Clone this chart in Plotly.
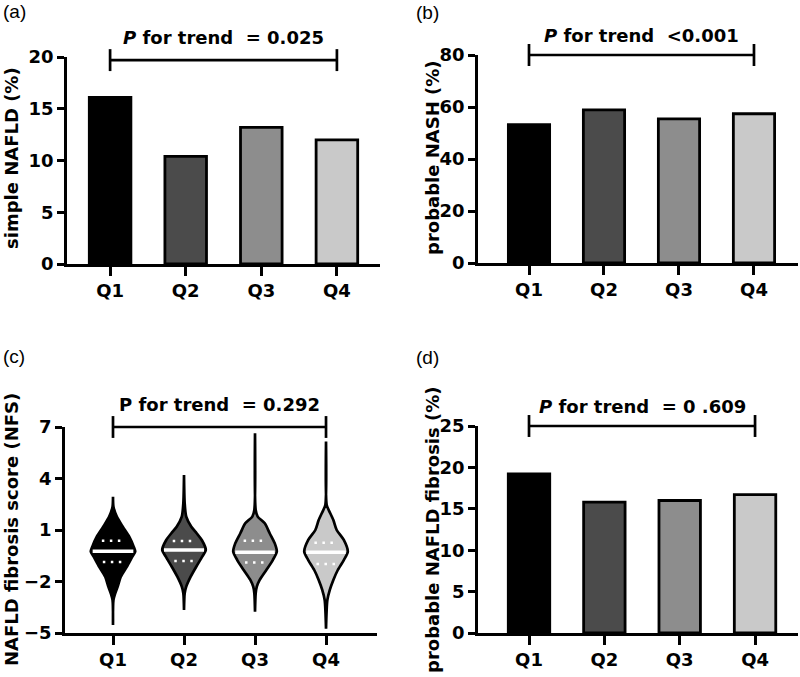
import numpy as np
import plotly.graph_objects as go

# ---------------- data ----------------
quartiles = ["Q1", "Q2", "Q3", "Q4"]
simple_nafld = [16.1, 10.4, 13.2, 12.0]          # (a) %
probable_nash = [53.2, 58.9, 55.4, 57.4]          # (b) %
probable_fibrosis = [19.2, 15.8, 16.0, 16.7]      # (d) %

# (c) NFS violin profiles: NFS value -> relative density
nfs_q1_vals = [2.94, 2.36, 1.78, 1.19, 0.61, 0.03, -0.26, -0.55, -1.14, -1.72, -2.30, -2.69, -3.08, -4.53]
nfs_q1_dens = [0.0, 0.02, 0.17, 0.44, 0.73, 0.93, 1.00, 0.87, 0.62, 0.35, 0.21, 0.10, 0.02, 0.0]
nfs_q2_vals = [4.20, 2.56, 1.78, 1.19, 0.81, 0.42, -0.16, -0.55, -1.14, -1.72, -2.30, -2.69, -3.66]
nfs_q2_dens = [0.0, 0.03, 0.10, 0.33, 0.57, 0.80, 0.98, 0.82, 0.55, 0.30, 0.10, 0.03, 0.0]
nfs_q3_vals = [6.63, 2.17, 1.78, 1.39, 0.81, 0.22, -0.26, -0.75, -1.33, -1.91, -2.30, -2.69, -3.76]
nfs_q3_dens = [0.0, 0.03, 0.12, 0.44, 0.66, 0.89, 0.98, 0.80, 0.51, 0.21, 0.08, 0.03, 0.0]
nfs_q4_vals = [6.15, 2.46, 2.17, 1.58, 1.00, 0.42, -0.26, -0.75, -1.33, -1.91, -2.49, -3.08, -4.75]
nfs_q4_dens = [0.0, 0.03, 0.12, 0.33, 0.48, 0.80, 0.98, 0.80, 0.53, 0.33, 0.17, 0.06, 0.0]
nfs_median = [-0.24, -0.16, -0.30, -0.30]
nfs_q_upper = [0.38, 0.36, 0.38, 0.26]
nfs_q_lower = [-0.86, -0.80, -0.90, -0.98]

p_texts = ["<i>P</i> for trend\u00a0 = 0.025",
           "<i>P</i> for trend\u00a0 <0.001",
           "P for trend\u00a0 = 0.292",
           "<i>P</i> for trend\u00a0 = 0 .609"]
y_titles = ["simple NAFLD (%)", "probable NASH (%)",
            "NAFLD fibrosis score (NFS)", "probable NAFLD fibrosis (%)"]
panel_labels = ["(a)", "(b)", "(c)", "(d)"]

# ---------------- style ----------------
W, H = 800, 677
FONT = "DejaVu Sans"
LABEL_FONT = "Liberation Sans"
fills = ["#000000", "#4b4b4b", "#8d8d8d", "#c9c9c9"]
LW = 2.7
VMAX = 0.313

def px(x):
    return x / W

def py(y):
    return 1 - y / H

fig = go.Figure()

# bars
for ax, vals in zip(["", "2", "4"], [simple_nafld, probable_nash, probable_fibrosis]):
    fig.add_trace(go.Bar(
        x=list(range(4)), y=vals, width=0.55,
        marker=dict(color=fills, line=dict(color="black", width=2.8)),
        xaxis="x" + ax, yaxis="y" + ax, showlegend=False, hoverinfo="skip"))

# violins
profiles = [(nfs_q1_vals, nfs_q1_dens), (nfs_q2_vals, nfs_q2_dens),
            (nfs_q3_vals, nfs_q3_dens), (nfs_q4_vals, nfs_q4_dens)]
for i, (vals, dens) in enumerate(profiles):
    vals = np.array(vals)
    hw = np.array(dens) * VMAX
    xs = list(i + hw) + list(i - hw[::-1]) + [i + hw[0]]
    ys = list(vals) + list(vals[::-1]) + [vals[0]]
    fig.add_trace(go.Scatter(
        x=xs, y=ys, mode="lines", fill="toself", fillcolor=fills[i],
        line=dict(color="black", width=LW, shape="spline", smoothing=0.7),
        xaxis="x3", yaxis="y3", showlegend=False, hoverinfo="skip"))
    asc_v, asc_d = vals[::-1], np.array(dens)[::-1]
    for yv, frac, dash, wid in [(nfs_median[i], 0.92, "solid", 3.5),
                                (nfs_q_upper[i], 0.62, "2.5px,5.5px", 2.5),
                                (nfs_q_lower[i], 0.62, "2.5px,5.5px", 2.5)]:
        h = np.interp(yv, asc_v, asc_d) * VMAX * frac
        fig.add_trace(go.Scatter(
            x=[i - h, i + h], y=[yv, yv], mode="lines",
            line=dict(color="white", width=wid, dash=dash),
            xaxis="x3", yaxis="y3", showlegend=False, hoverinfo="skip"))

tickfont = dict(family=FONT, size=18, color="black", weight="bold")

def xaxis(dom, rng, anchor):
    return dict(domain=dom, range=rng, anchor=anchor, tickmode="array",
                tickvals=list(range(4)), ticktext=quartiles, showline=True,
                linecolor="black", linewidth=LW, ticks="outside", ticklen=9,
                tickwidth=LW, tickcolor="black", showgrid=False, zeroline=False,
                tickfont=tickfont, fixedrange=True)

def yaxis(dom, rng, tv, anchor):
    return dict(domain=dom, range=rng, anchor=anchor, tickmode="array",
                tickvals=tv, showline=True, linecolor="black", linewidth=LW,
                ticks="outside", ticklen=7, tickwidth=LW, tickcolor="black",
                showgrid=False, zeroline=False, tickfont=tickfont, fixedrange=True)

fig.update_layout(
    width=W, height=H, margin=dict(l=0, r=0, t=0, b=0, autoexpand=False),
    paper_bgcolor="white", plot_bgcolor="white", showlegend=False,
    xaxis=xaxis([px(67), px(380)], [-0.57, 3.57], "y"),
    yaxis=yaxis([py(264), py(57)], [0, 20], [0, 5, 10, 15, 20], "x"),
    xaxis2=xaxis([px(478), px(798)], [-0.68, 3.587], "y2"),
    yaxis2=yaxis([py(263), py(55)], [0, 80], [0, 20, 40, 60, 80], "x2"),
    xaxis3=xaxis([px(65), px(377)], [-0.676, 3.718], "y3"),
    yaxis3=yaxis([py(633), py(427)], [-5, 7], [-5, -2, 1, 4, 7], "x3"),
    xaxis4=xaxis([px(478), px(798)], [-0.677, 3.57], "y4"),
    yaxis4=yaxis([py(633), py(426)], [0, 25], [0, 5, 10, 15, 20, 25], "x4"),
)

# brackets and P texts
text_off = [1.092, 1.096, 1.107, 1.092]
bracket_y = [0.985, 1.0, 1.0, 1.0]
for k, ax in enumerate(["", "2", "3", "4"]):
    xr, yr = "x" + ax, ("y" + ax) + " domain"
    d = 0.053
    b = bracket_y[k]
    for (x0, y0, x1, y1) in [(0, b, 3, b), (0, b - d, 0, b + d), (3, b - d, 3, b + d)]:
        fig.add_shape(type="line", xref=xr, yref=yr, x0=x0, y0=y0, x1=x1, y1=y1,
                      line=dict(color="black", width=LW))
    fig.add_annotation(text="<b>" + p_texts[k] + "</b>", xref=xr, yref=yr,
                       x=1.5, y=text_off[k], showarrow=False,
                       xanchor="center", yanchor="middle",
                       font=dict(family=FONT, size=18, color="black"))

# panel labels
for lab, (x, y) in zip(panel_labels, [(1, 11), (414, 12), (1, 356), (414, 357)]):
    fig.add_annotation(text=lab, xref="paper", yref="paper", x=px(x), y=py(y),
                       xanchor="left", yanchor="middle", showarrow=False,
                       font=dict(family=LABEL_FONT, size=19, color="black"))

# y titles
for t, (x, y) in zip(y_titles, [(11, 158), (432, 158), (11, 530), (432, 530)]):
    fig.add_annotation(text="<b>" + t + "</b>", xref="paper", yref="paper",
                       x=px(x), y=py(y), xanchor="center", yanchor="middle",
                       textangle=-90, showarrow=False,
                       font=dict(family=FONT, size=18, color="black"))

fig.write_html("out.html", config={"displayModeBar": False},
               post_script="document.body.style.margin='0';document.body.style.overflow='hidden';")
